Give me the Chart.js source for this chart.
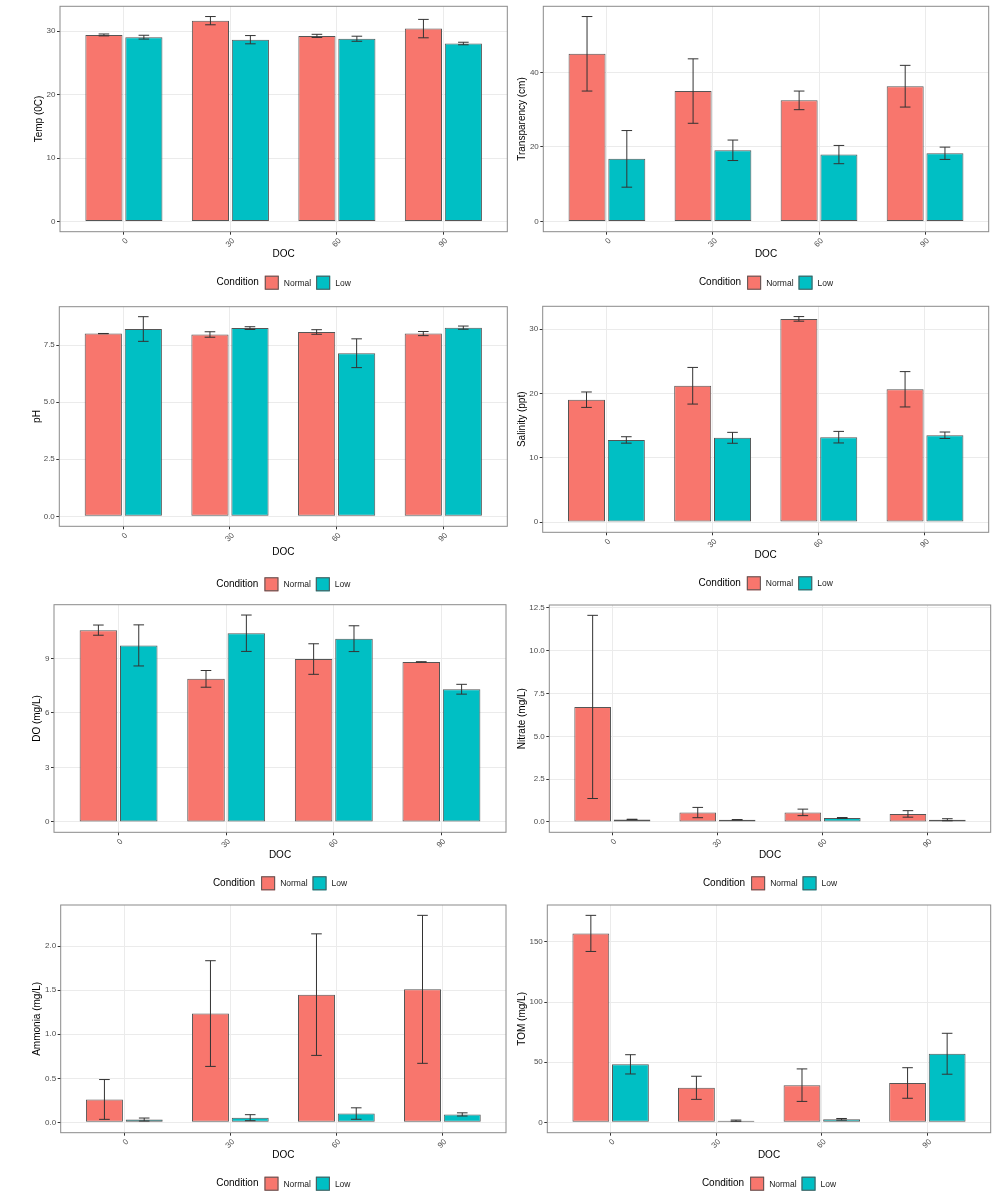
<!DOCTYPE html>
<html>
<head>
<meta charset="utf-8">
<script src="https://cdn.jsdelivr.net/npm/chart.js@4.4.1/dist/chart.umd.min.js"></script>
<style>
body { margin: 0; background: #fff; width: 995px; height: 1200px; position: relative; overflow: hidden; }
.panel { position: absolute; }
</style>
</head>
<body>
<div class="panel" style="left:0px;top:0px;width:510px;height:300px"><canvas id="c1"></canvas></div>
<div class="panel" style="left:510px;top:0px;width:485px;height:300px"><canvas id="c2"></canvas></div>
<div class="panel" style="left:0px;top:300px;width:510px;height:295px"><canvas id="c3"></canvas></div>
<div class="panel" style="left:510px;top:300px;width:485px;height:295px"><canvas id="c4"></canvas></div>
<div class="panel" style="left:0px;top:595px;width:510px;height:300px"><canvas id="c5"></canvas></div>
<div class="panel" style="left:510px;top:595px;width:485px;height:300px"><canvas id="c6"></canvas></div>
<div class="panel" style="left:0px;top:895px;width:510px;height:305px"><canvas id="c7"></canvas></div>
<div class="panel" style="left:510px;top:895px;width:485px;height:305px"><canvas id="c8"></canvas></div>
<script>
// DOC (days of culture) and the two pond conditions
const doc = [0, 30, 60, 90];
const conditions = ['Normal', 'Low'];

// mean values and standard errors
const tempNormal = [29.4, 31.65, 29.25, 30.4];
const tempNormalSe = [0.15, 0.65, 0.25, 1.45];
const tempLow = [29.05, 28.65, 28.8, 28.05];
const tempLowSe = [0.3, 0.65, 0.4, 0.2];

const transNormal = [45.0, 35.0, 32.5, 36.3];
const transNormalSe = [10.0, 8.65, 2.5, 5.6];
const transLow = [16.8, 19.1, 17.95, 18.3];
const transLowSe = [7.6, 2.75, 2.45, 1.65];

const phNormal = [8.0, 7.96, 8.07, 8.0];
const phNormalSe = [0.005, 0.12, 0.1, 0.09];
const phLow = [8.2, 8.24, 7.14, 8.26];
const phLowSe = [0.54, 0.06, 0.63, 0.07];

const salNormal = [19.03, 21.2, 31.6, 20.65];
const salNormalSe = [1.2, 2.85, 0.36, 2.75];
const salLow = [12.77, 13.1, 13.2, 13.5];
const salLowSe = [0.5, 0.85, 0.9, 0.5];

const doNormal = [10.55, 7.87, 8.96, 8.8];
const doNormalSe = [0.28, 0.46, 0.84, 0.01];
const doLow = [9.71, 10.38, 10.08, 7.3];
const doLowSe = [1.13, 1.0, 0.71, 0.27];

const nitNormal = [6.72, 0.55, 0.56, 0.47];
const nitNormalSe = [5.35, 0.3, 0.19, 0.19];
const nitLow = [0.15, 0.13, 0.23, 0.13];
const nitLowSe = [0.01, 0.01, 0.03, 0.06];

const ammNormal = [0.26, 1.235, 1.45, 1.51];
const ammNormalSe = [0.226, 0.6, 0.69, 0.84];
const ammLow = [0.032, 0.053, 0.10, 0.09];
const ammLowSe = [0.017, 0.034, 0.065, 0.018];

const tomNormal = [157, 28.7, 30.9, 32.7];
const tomNormalSe = [15, 9.6, 13.5, 12.7];
const tomLow = [48.2, 1.4, 2.5, 57];
const tomLowSe = [8, 0.5, 0.7, 17];

// y tick values per panel
const tempTicks = [0, 10, 20, 30];
const transTicks = [0, 20, 40];
const phTicks = [0, 2.5, 5, 7.5];
const salTicks = [0, 10, 20, 30];
const doTicks = [0, 3, 6, 9];
const nitTicks = [0, 2.5, 5, 7.5, 10, 12.5];
const ammTicks = [0, 0.5, 1, 1.5, 2];
const tomTicks = [0, 50, 100, 150];

const FONT = '"Liberation Sans", Arial, Helvetica, sans-serif';
const RED = '#F8766D';
const TEAL = '#00BFC4';
const TITLE_SIZE = 10;

// layout: canvas origin (x,y), panel box [L,T,R,B], y title centre, DOC title centre, legend centre (page px)
const panels = [
  { id: 'c1', ylab: 'Temp (0C)', n: tempNormal, ns: tempNormalSe, l: tempLow, ls: tempLowSe, ticks: tempTicks, dec: 0,
    ox: 0, oy: 0, w: 510, h: 300, box: [60, 4.3, 507.3, 231.7], tx: 39, docY: 254.3, legY: 282.7 },
  { id: 'c2', ylab: 'Transparency (cm)', n: transNormal, ns: transNormalSe, l: transLow, ls: transLowSe, ticks: transTicks, dec: 0,
    ox: 510, oy: 0, w: 485, h: 300, box: [543.3, 5.3, 988.7, 231.7], tx: 522, docY: 254.3, legY: 282.7 },
  { id: 'c3', ylab: 'pH', n: phNormal, ns: phNormalSe, l: phLow, ls: phLowSe, ticks: phTicks, dec: 1,
    ox: 0, oy: 300, w: 510, h: 295, box: [59.3, 306.7, 507.3, 526.3], tx: 37, docY: 552.7, legY: 584.3 },
  { id: 'c4', ylab: 'Salinity (ppt)', n: salNormal, ns: salNormalSe, l: salLow, ls: salLowSe, ticks: salTicks, dec: 0,
    ox: 510, oy: 300, w: 485, h: 295, box: [542.7, 306, 988.7, 532.3], tx: 522, docY: 555.3, legY: 583.3 },
  { id: 'c5', ylab: 'DO (mg/L)', n: doNormal, ns: doNormalSe, l: doLow, ls: doLowSe, ticks: doTicks, dec: 0,
    ox: 0, oy: 595, w: 510, h: 300, box: [54, 604.7, 506, 832.3], tx: 37, docY: 855, legY: 883.3 },
  { id: 'c6', ylab: 'Nitrate (mg/L)', n: nitNormal, ns: nitNormalSe, l: nitLow, ls: nitLowSe, ticks: nitTicks, dec: 1,
    ox: 510, oy: 595, w: 485, h: 300, box: [549.3, 605, 990.7, 832.3], tx: 522, docY: 855, legY: 883.3 },
  { id: 'c7', ylab: 'Ammonia (mg/L)', n: ammNormal, ns: ammNormalSe, l: ammLow, ls: ammLowSe, ticks: ammTicks, dec: 1,
    ox: 0, oy: 895, w: 510, h: 305, box: [60.7, 905, 506, 1132.7], tx: 37, docY: 1155.3, legY: 1183.7 },
  { id: 'c8', ylab: 'TOM (mg/L)', n: tomNormal, ns: tomNormalSe, l: tomLow, ls: tomLowSe, ticks: tomTicks, dec: 0,
    ox: 510, oy: 895, w: 485, h: 305, box: [547.3, 905, 990.7, 1132.7], tx: 522, docY: 1155.3, legY: 1183.7 }
];

// mean +/- se whiskers on each bar
const errorBars = {
  id: 'errorBars',
  afterDatasetsDraw(chart) {
    const ctx = chart.ctx, ys = chart.scales.y;
    ctx.save();
    ctx.strokeStyle = '#333';
    ctx.lineWidth = 1;
    chart.data.datasets.forEach((ds, i) => {
      chart.getDatasetMeta(i).data.forEach((bar, j) => {
        const v = ds.data[j].y, e = ds.se[j];
        const top = ys.getPixelForValue(v + e), bot = ys.getPixelForValue(v - e);
        const hw = 5.3;
        ctx.beginPath();
        ctx.moveTo(bar.x, top); ctx.lineTo(bar.x, bot);
        ctx.moveTo(bar.x - hw, top); ctx.lineTo(bar.x + hw, top);
        ctx.moveTo(bar.x - hw, bot); ctx.lineTo(bar.x + hw, bot);
        ctx.stroke();
      });
    });
    ctx.restore();
  }
};

// panel border like theme_bw
const panelBorder = {
  id: 'panelBorder',
  afterDraw(chart) {
    const a = chart.chartArea, ctx = chart.ctx;
    ctx.save();
    ctx.strokeStyle = '#8a8a8a';
    ctx.lineWidth = 1;
    ctx.strokeRect(a.left, a.top, a.right - a.left, a.bottom - a.top);
    ctx.restore();
  }
};

// ggplot-style legend: title on the left, keys inline
const condLegend = {
  id: 'condLegend',
  afterDraw(chart, args, opts) {
    const ctx = chart.ctx, a = chart.chartArea;
    const y = opts.y;
    ctx.save();
    ctx.font = TITLE_SIZE + 'px ' + FONT;
    const wT = ctx.measureText('Condition').width;
    ctx.font = '8.5px ' + FONT;
    const ws = chart.data.datasets.map(ds => ctx.measureText(ds.label).width);
    const key = 14;
    let total = wT + 6;
    ws.forEach((w, i) => { total += key + 5 + w + (i < ws.length - 1 ? 5 : 0); });
    let x = (a.left + a.right) / 2 - total / 2;
    ctx.textBaseline = 'middle';
    ctx.textAlign = 'left';
    ctx.fillStyle = '#000';
    ctx.font = TITLE_SIZE + 'px ' + FONT;
    ctx.fillText('Condition', x, y);
    x += wT + 6;
    chart.data.datasets.forEach((ds, i) => {
      ctx.fillStyle = ds.backgroundColor;
      ctx.fillRect(x, y - key / 2, key, key);
      ctx.strokeStyle = '#555';
      ctx.lineWidth = 1;
      ctx.strokeRect(x + 0.5, y - key / 2 + 0.5, key - 1, key - 1);
      x += key + 5;
      ctx.fillStyle = '#1a1a1a';
      ctx.font = '8.5px ' + FONT;
      ctx.fillText(ds.label, x, y + 0.5);
      x += ws[i] + 5;
    });
    ctx.restore();
  }
};

function drawPanel(p) {
  const [L, T, R, B] = p.box;
  const half = TITLE_SIZE * 1.2 / 2;
  const padLeft = p.tx - p.ox - half;
  const yWidth = L - p.ox - padLeft;
  const padTop = T - p.oy;
  const padRight = p.ox + p.w - R;
  const xHeight = p.docY - B + half;
  const padBottom = p.oy + p.h - B - xHeight;

  // ggplot default expansion: 5% of data range incl. error bars
  const hi = Math.max(...p.n.map((v, i) => v + p.ns[i]), ...p.l.map((v, i) => v + p.ls[i]));
  const pad = hi * 0.05;
  const xStep = doc[1] - doc[0];

  const ctx = document.getElementById(p.id).getContext('2d');
  new Chart(ctx, {
    type: 'bar',
    data: {
      datasets: [
        { label: conditions[0], data: doc.map((d, i) => ({ x: d, y: p.n[i] })), se: p.ns,
          backgroundColor: RED, borderColor: '#555', borderWidth: 1, borderSkipped: false },
        { label: conditions[1], data: doc.map((d, i) => ({ x: d, y: p.l[i] })), se: p.ls,
          backgroundColor: TEAL, borderColor: '#555', borderWidth: 1, borderSkipped: false }
      ]
    },
    options: {
      responsive: true,
      maintainAspectRatio: false,
      animation: false,
      layout: { padding: { left: padLeft, top: padTop, right: padRight, bottom: padBottom } },
      datasets: { bar: { categoryPercentage: 0.75, barPercentage: 0.93 } },
      scales: {
        x: {
          type: 'linear',
          offset: false,
          min: doc[0] - 0.6 * xStep,
          max: doc[doc.length - 1] + 0.6 * xStep,
          afterBuildTicks: s => { s.ticks = doc.map(v => ({ value: v })); },
          afterFit: s => { s.height = xHeight; },
          grid: { offset: false, color: '#EBEBEB', lineWidth: 1, drawTicks: true, tickLength: 3, tickColor: '#333' },
          border: { display: false },
          ticks: { autoSkip: false, minRotation: 45, maxRotation: 45, padding: 1.5, labelOffset: 3,
                   color: '#4D4D4D', font: { family: FONT, size: 8 } },
          title: { display: true, text: 'DOC', color: '#000', padding: 0, font: { family: FONT, size: TITLE_SIZE } }
        },
        y: {
          min: -pad,
          max: hi + pad,
          afterBuildTicks: s => { s.ticks = p.ticks.map(v => ({ value: v })); },
          afterFit: s => { s.width = yWidth; },
          grid: { color: '#EBEBEB', lineWidth: 1, drawTicks: true, tickLength: 3, tickColor: '#333' },
          border: { display: false },
          ticks: { padding: 1.5, color: '#4D4D4D', font: { family: FONT, size: 8 },
                   callback: v => Number(v).toFixed(p.dec) },
          title: { display: true, text: p.ylab, color: '#000', padding: 0, font: { family: FONT, size: TITLE_SIZE } }
        }
      },
      plugins: {
        legend: { display: false },
        tooltip: { enabled: false },
        condLegend: { y: p.legY - p.oy }
      }
    },
    plugins: [errorBars, panelBorder, condLegend]
  });
}

panels.forEach(drawPanel);
</script>
</body>
</html>
